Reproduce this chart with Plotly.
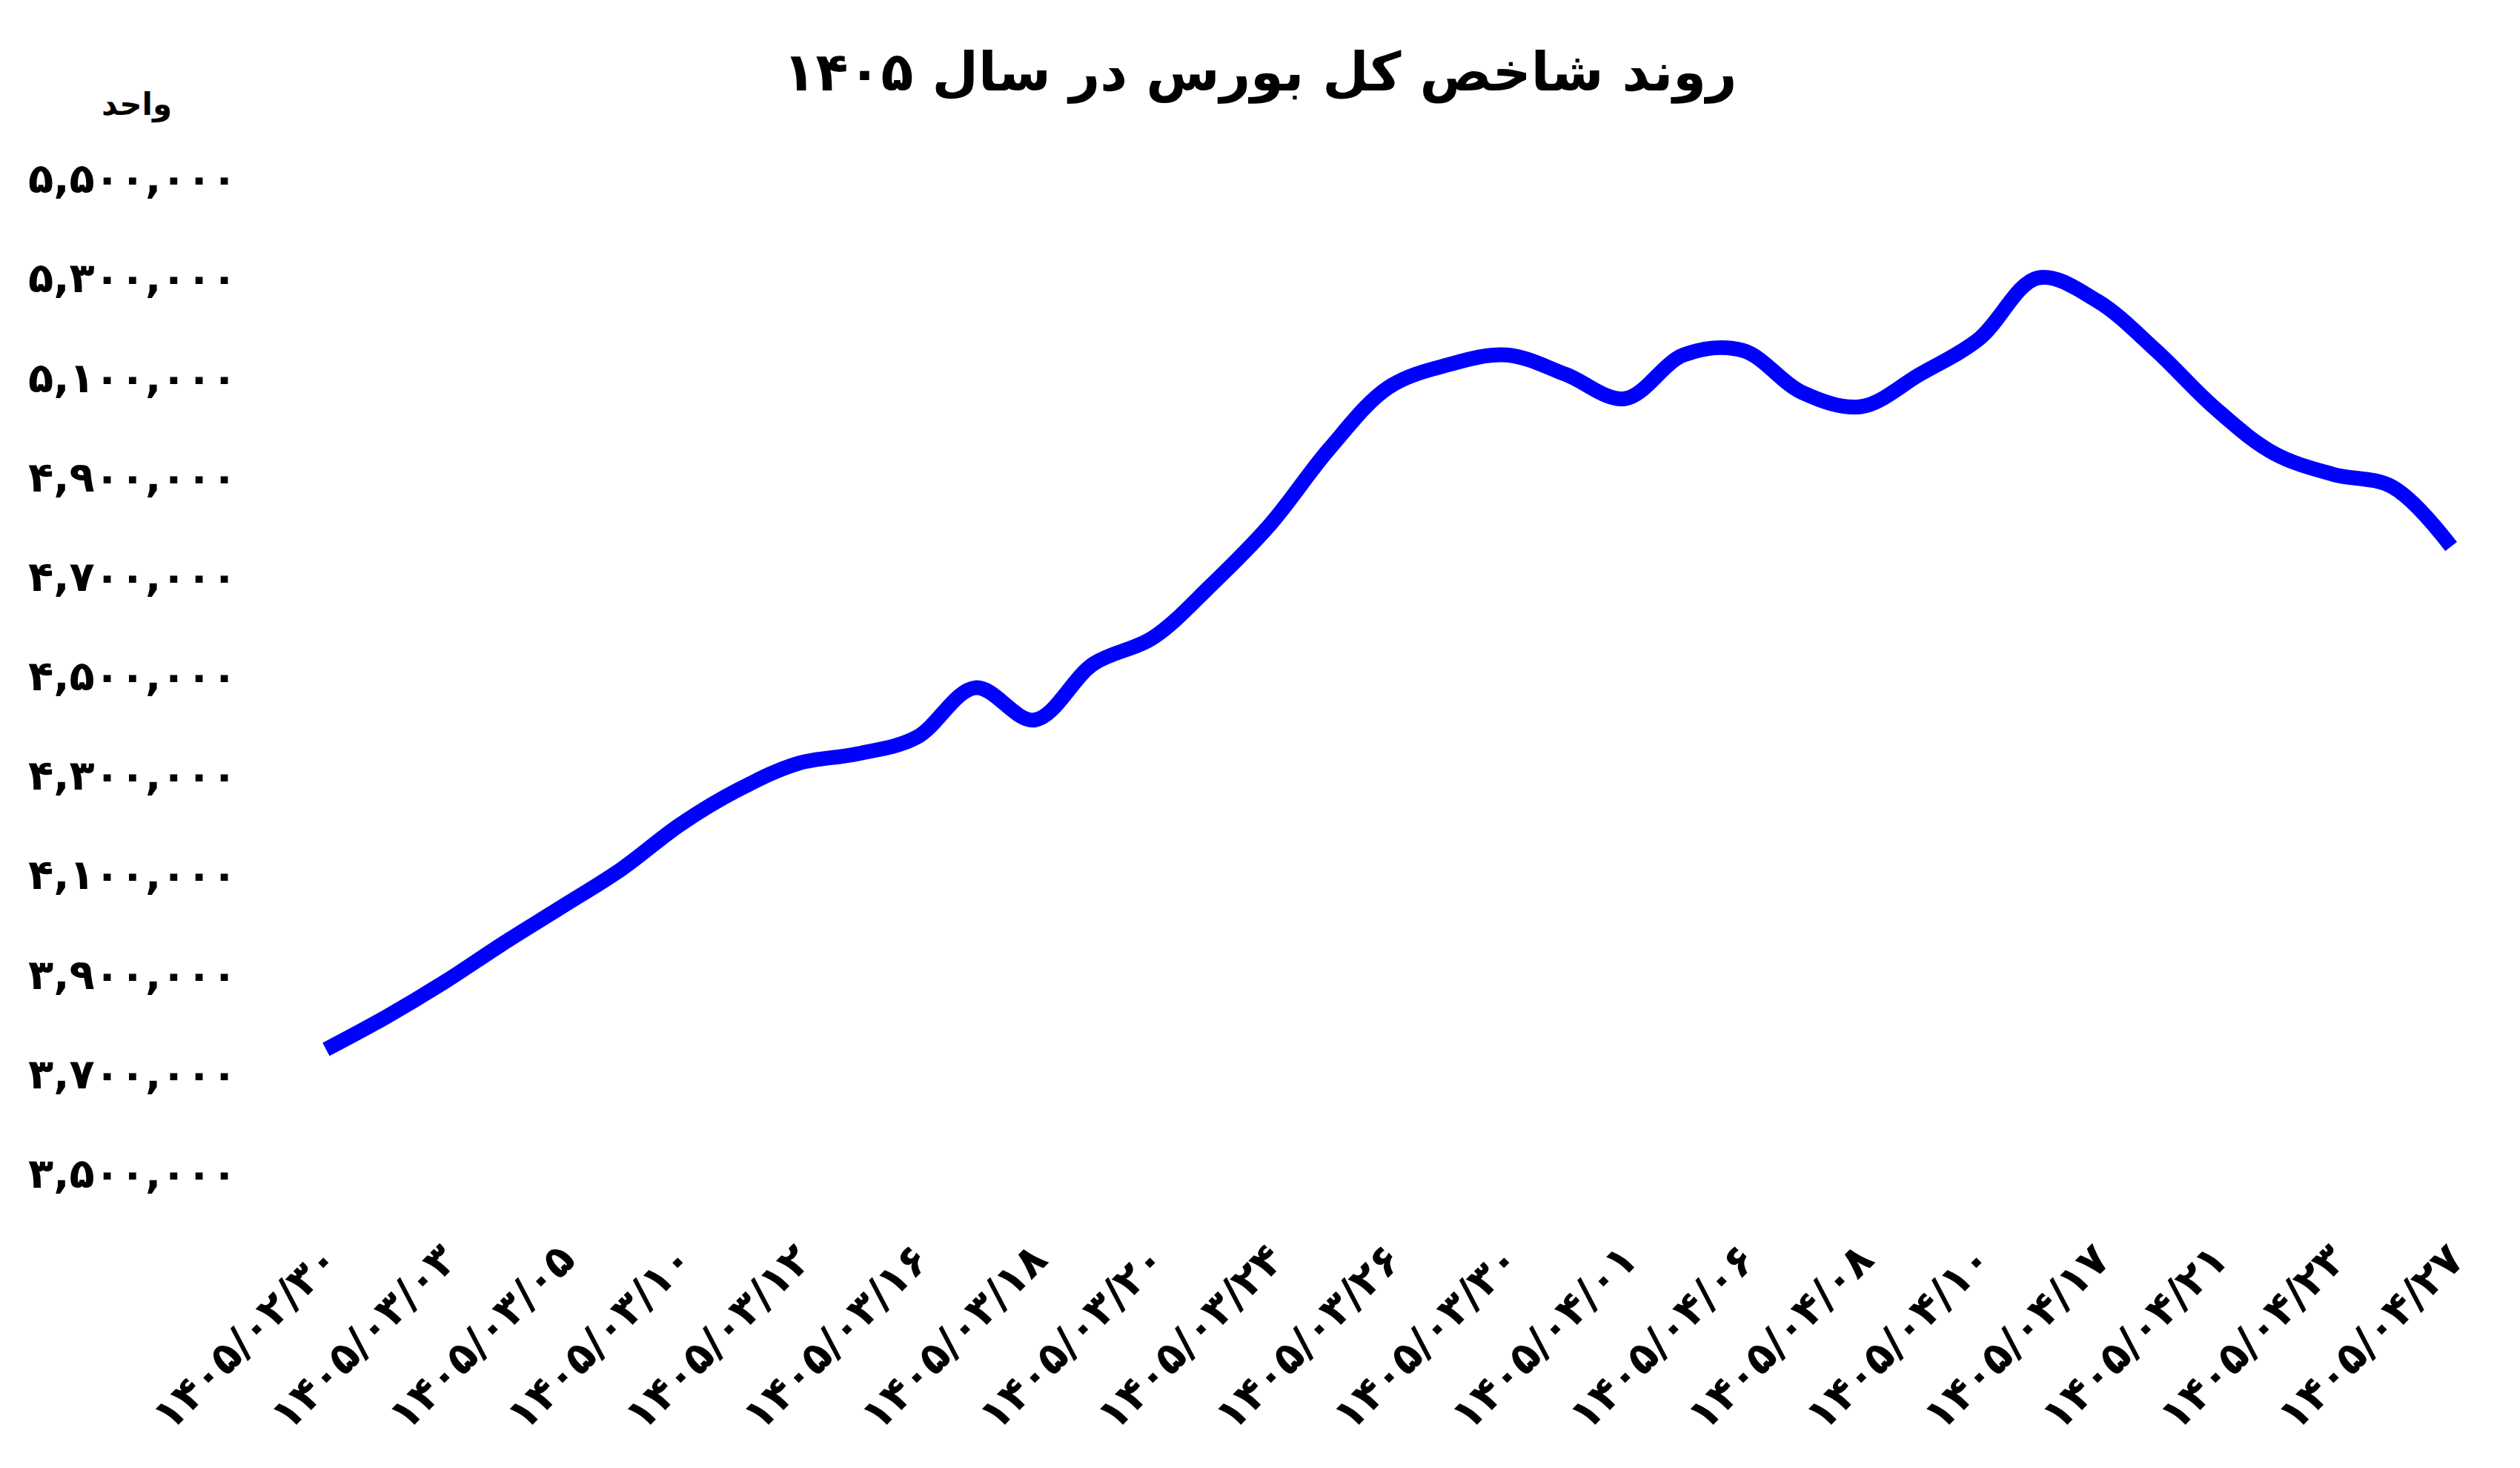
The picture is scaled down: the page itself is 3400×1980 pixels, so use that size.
import plotly.graph_objects as go

# Tick labels shown on the x axis (every second observation is labelled)
date_labels = [
    "۱۴۰۵/۰۲/۳۰", "۱۴۰۵/۰۳/۰۳", "۱۴۰۵/۰۳/۰۵", "۱۴۰۵/۰۳/۱۰", "۱۴۰۵/۰۳/۱۲",
    "۱۴۰۵/۰۳/۱۶", "۱۴۰۵/۰۳/۱۸", "۱۴۰۵/۰۳/۲۰", "۱۴۰۵/۰۳/۲۴", "۱۴۰۵/۰۳/۲۶",
    "۱۴۰۵/۰۳/۳۰", "۱۴۰۵/۰۴/۰۱", "۱۴۰۵/۰۴/۰۶", "۱۴۰۵/۰۴/۰۸", "۱۴۰۵/۰۴/۱۰",
    "۱۴۰۵/۰۴/۱۷", "۱۴۰۵/۰۴/۲۱", "۱۴۰۵/۰۴/۲۳", "۱۴۰۵/۰۴/۲۷",
]

# Index values (units), one per trading-day observation
index_values = [
    3749000, 3813000, 3884000, 3962000, 4036000, 4111000, 4201000, 4272000,
    4324000, 4343000, 4376000, 4476000, 4411000, 4524000, 4576000, 4683000,
    4805000, 4957000, 5080000, 5125000, 5145000, 5106000, 5057000, 5145000,
    5154000, 5070000, 5041000, 5106000, 5177000, 5300000, 5254000, 5154000,
    5038000, 4947000, 4905000, 4880000, 4760000,
]

y_ticks = [3500000, 3700000, 3900000, 4100000, 4300000, 4500000,
           4700000, 4900000, 5100000, 5300000, 5500000]

PERSIAN = str.maketrans("0123456789", "۰۱۲۳۴۵۶۷۸۹")


def fa(n):
    return f"{n:,}".translate(PERSIAN)


x_idx = list(range(len(index_values)))
tick_positions = x_idx[::2]

FONT = "DejaVu Sans"

fig = go.Figure()
fig.add_trace(go.Scatter(
    x=x_idx,
    y=index_values,
    mode="lines",
    line=dict(color="#0000FF", width=20, shape="spline", smoothing=1.0),
    showlegend=False,
    hoverinfo="skip",
))

fig.update_layout(
    width=3400,
    height=1980,
    paper_bgcolor="white",
    plot_bgcolor="white",
    margin=dict(l=416, r=69, t=207, b=364),
    title=dict(
        text="<b>روند شاخص کل بورس در سال ۱۴۰۵</b>",
        x=0.5, xanchor="center", y=0.951, yanchor="middle",
        font=dict(family=FONT, size=72, color="black"),
    ),
    xaxis=dict(
        range=[-0.3, 36.3],
        tickmode="array",
        tickvals=tick_positions,
        ticktext=[f"<b>{t}</b>" for t in date_labels],
        tickangle=-45,
        ticks="outside",
        ticklen=24,
        tickcolor="rgba(0,0,0,0)",
        tickfont=dict(family=FONT, size=58, color="black"),
        showgrid=False,
        zeroline=False,
        showline=False,
    ),
    yaxis=dict(
        range=[3450000, 5550000],
        tickmode="array",
        tickvals=y_ticks,
        ticktext=[f"<b>{fa(v)}</b>" for v in y_ticks],
        ticks="outside",
        ticklen=84,
        tickcolor="rgba(0,0,0,0)",
        tickfont=dict(family=FONT, size=56, color="black"),
        showgrid=False,
        zeroline=False,
        showline=False,
    ),
    annotations=[
        dict(
            text="<b>واحد</b>",
            xref="paper", yref="paper",
            x=0.0, y=1.0,
            xshift=-232, yshift=66,
            xanchor="center", yanchor="middle",
            showarrow=False,
            font=dict(family=FONT, size=42, color="black"),
        )
    ],
)

fig.write_html("out.html")
